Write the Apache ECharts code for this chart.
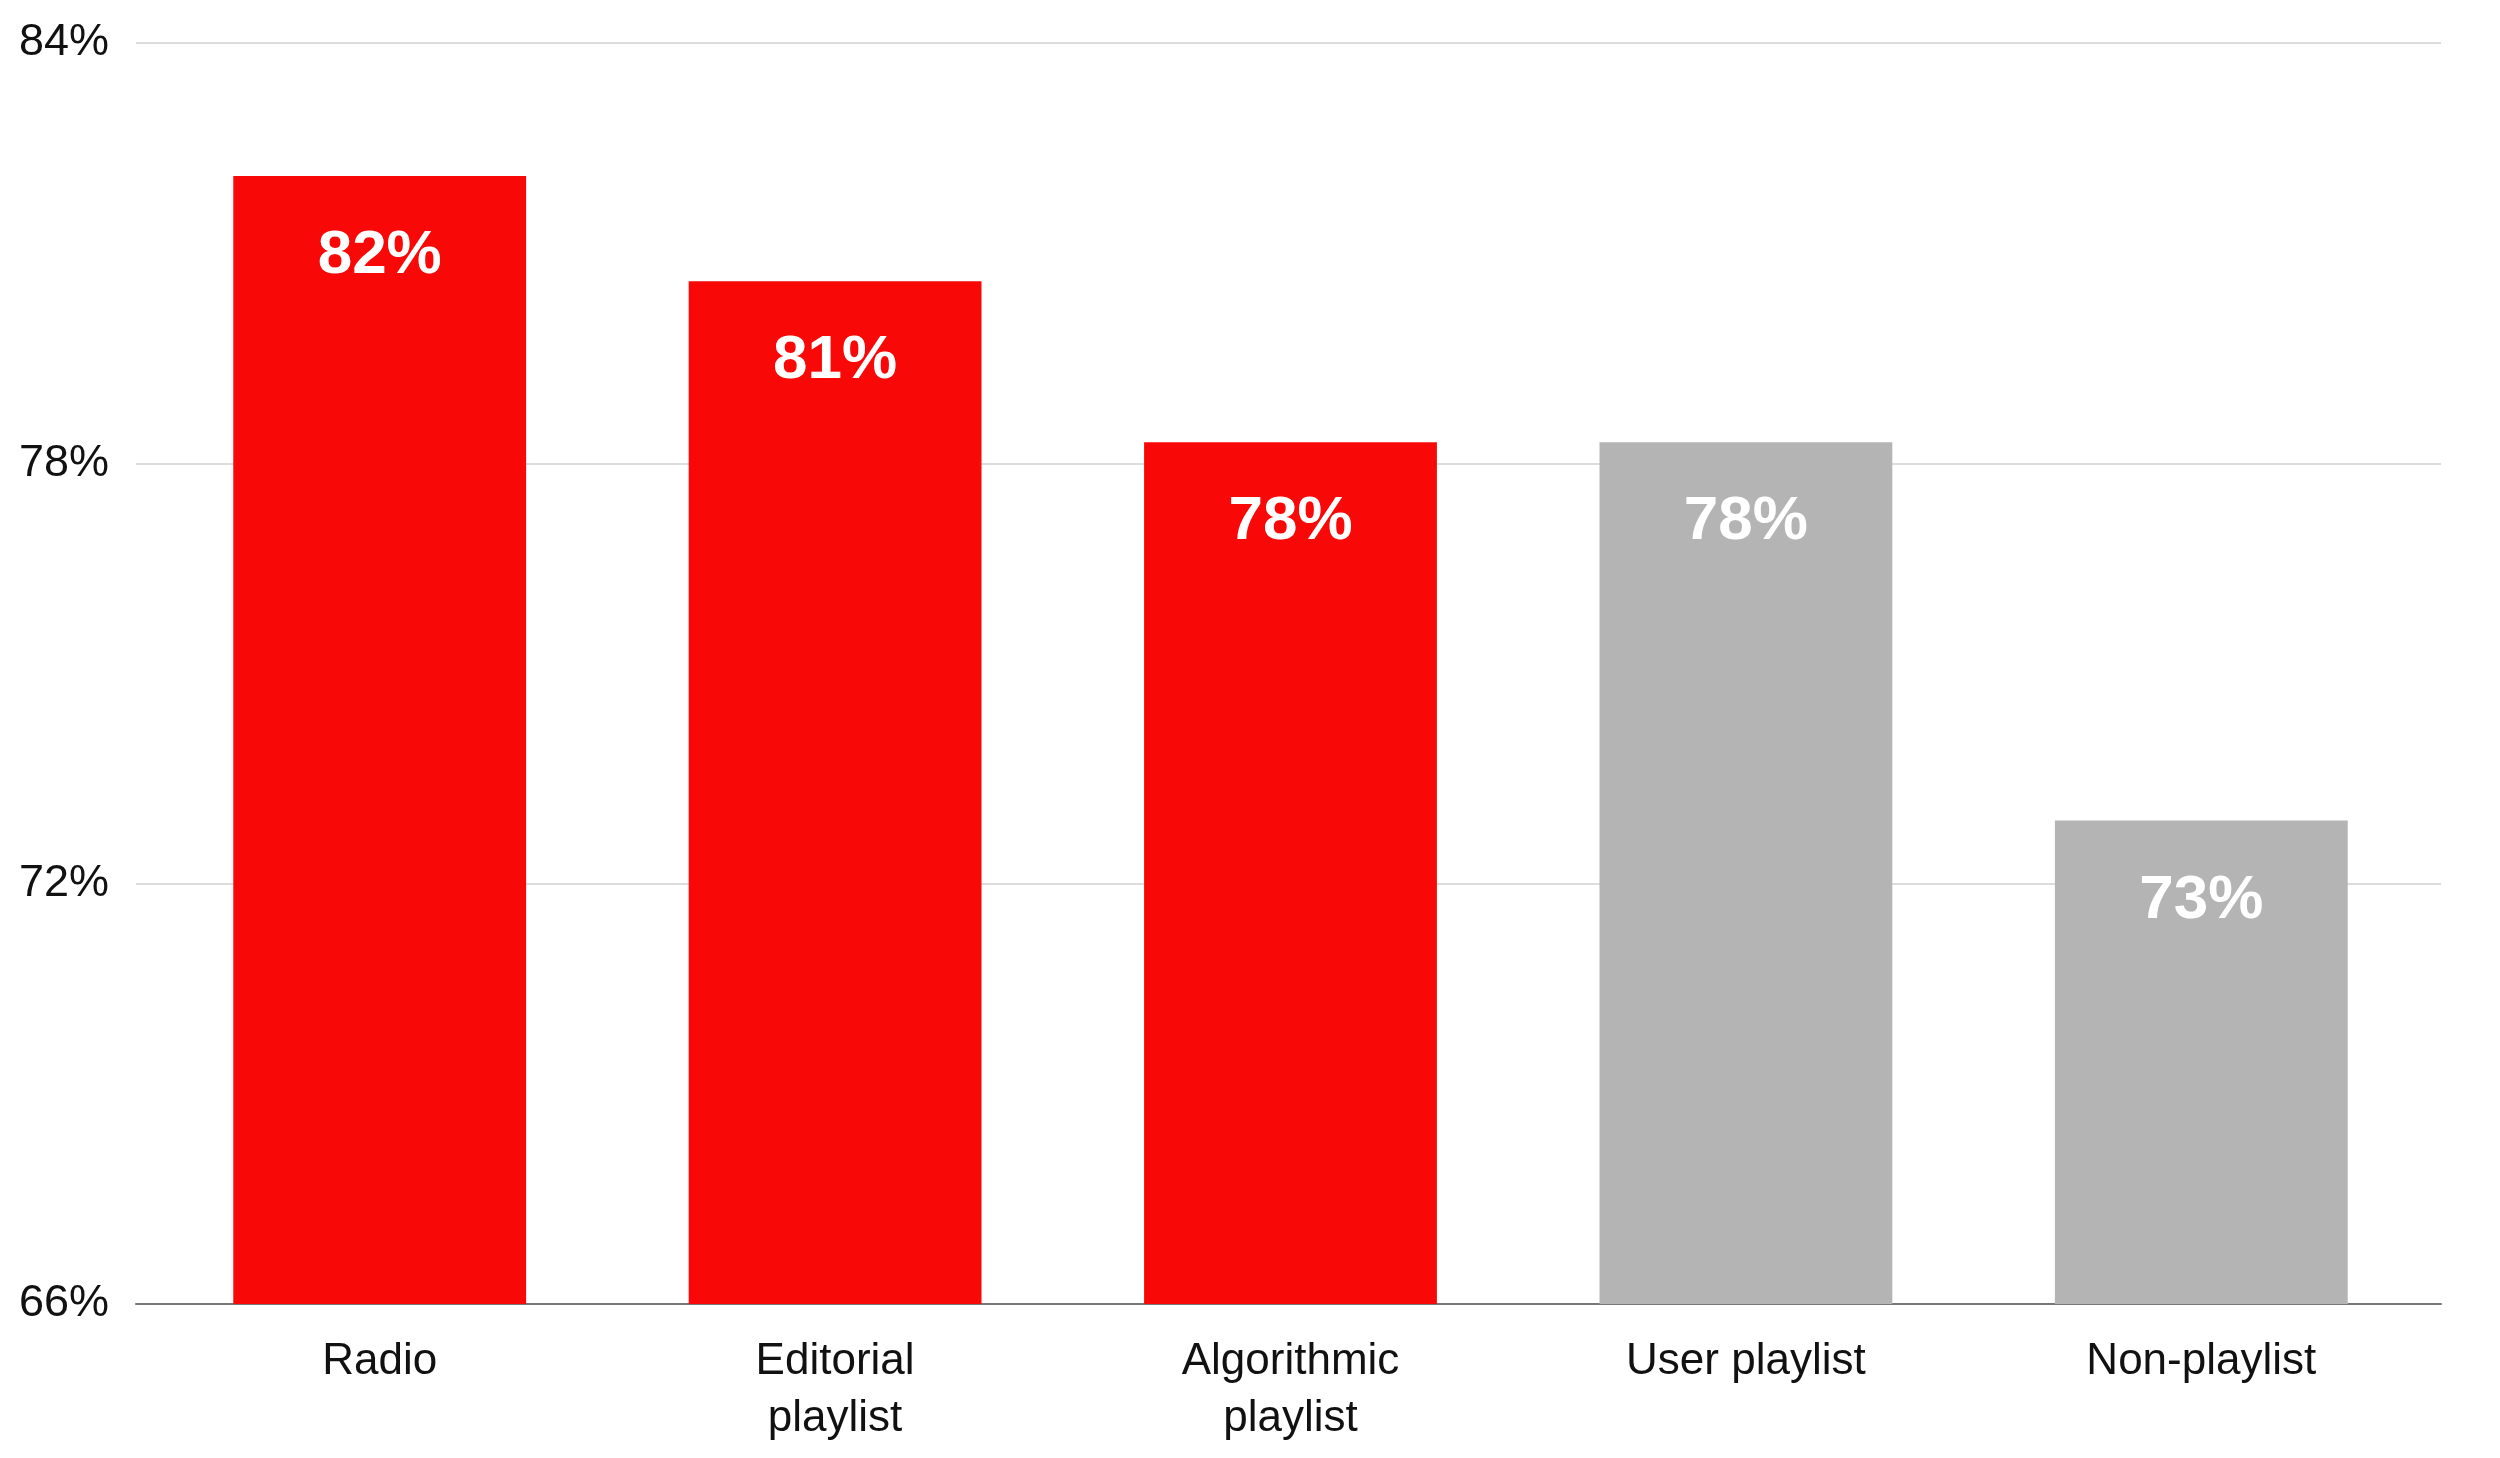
<!DOCTYPE html>
<html>
<head>
<meta charset="utf-8">
<script src="https://cdn.jsdelivr.net/npm/echarts@6/dist/echarts.min.js"></script>
<style>
html,body{margin:0;padding:0;background:#fff;}
#chart{width:2500px;height:1458px;}
</style>
</head>
<body>
<div id="chart"></div>
<script>
const categories = ['Radio', 'Editorial\nplaylist', 'Algorithmic\nplaylist', 'User playlist', 'Non-playlist'];
const values = [82.1, 80.6, 78.3, 78.3, 72.9];
const valueLabels = ['82%', '81%', '78%', '78%', '73%'];
const yTicks = [66, 72, 78, 84];

const RED = '#F90808';
const GREY = '#B4B4B4';
const FONT = '"Liberation Sans", Arial, sans-serif';

const chart = echarts.init(document.getElementById('chart'));
chart.setOption({
  animation: false,
  backgroundColor: '#ffffff',
  grid: [
    { left: 136, right: 59, top: 43, bottom: 154 },
    { left: 152, right: 71, top: 43, bottom: 154 }
  ],
  xAxis: [
    {
      gridIndex: 0, type: 'category', data: categories,
      axisLine: { show: true, lineStyle: { color: '#777777', width: 2 } },
      axisTick: { show: false }, axisLabel: { show: false }, splitLine: { show: false }
    },
    {
      gridIndex: 1, type: 'category', data: categories,
      axisLine: { show: false }, axisTick: { show: false },
      axisLabel: {
        show: true, color: '#111111', fontSize: 44, fontFamily: FONT,
        lineHeight: 57, margin: 29, interval: 0
      }
    }
  ],
  yAxis: [
    {
      gridIndex: 0, type: 'value',
      min: yTicks[0], max: yTicks[yTicks.length - 1], interval: yTicks[1] - yTicks[0],
      axisLine: { show: false }, axisTick: { show: false },
      axisLabel: { color: '#111111', fontSize: 45, fontFamily: FONT, margin: 27,
        padding: [10, 0, 0, 0], formatter: '{value}%' },
      splitLine: { show: true, lineStyle: { color: '#DCDCDC', width: 2 } }
    },
    {
      gridIndex: 1, type: 'value',
      min: yTicks[0], max: yTicks[yTicks.length - 1], interval: yTicks[1] - yTicks[0],
      show: false, splitLine: { show: false }
    }
  ],
  series: [
    {
      type: 'bar',
      xAxisIndex: 1, yAxisIndex: 1,
      data: values,
      barWidth: '64.3%',
      itemStyle: { color: p => (p.dataIndex < 3 ? RED : GREY) },
      label: {
        show: true, position: 'insideTop', distance: 49,
        color: '#ffffff', fontSize: 62, fontWeight: 'bold', fontFamily: FONT,
        formatter: p => valueLabels[p.dataIndex]
      },
      z: 3
    }
  ]
});
</script>
</body>
</html>
